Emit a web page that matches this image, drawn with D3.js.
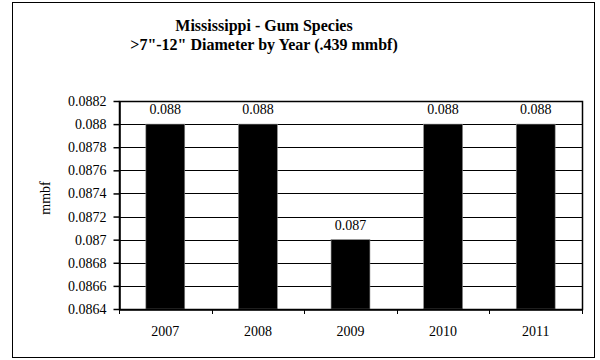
<!DOCTYPE html>
<html><head><meta charset="utf-8">
<script src="https://cdn.jsdelivr.net/npm/d3@7"></script>
<style>body{margin:0;background:#fff}svg{display:block}</style>
</head><body>
<svg id="c" width="600" height="360"></svg>
<script>
const categories = ["2007","2008","2009","2010","2011"];
const values = [0.088,0.088,0.087,0.088,0.088];
const valueLabels = ["0.088","0.088","0.087","0.088","0.088"];
const yTicks = [0.0864,0.0866,0.0868,0.087,0.0872,0.0874,0.0876,0.0878,0.088,0.0882];
const yTickLabels = ["0.0864","0.0866","0.0868","0.087","0.0872","0.0874","0.0876","0.0878","0.088","0.0882"];
const titleLines = ["Mississippi - Gum Species",">7\"-12\" Diameter by Year (.439 mmbf)"];
const yTitle = "mmbf";

const svg = d3.select("#c");
const font = "'Liberation Serif','Times New Roman',serif";
const L=119,R=582,T=101,B=309;
svg.append("rect").attr("x",12.5).attr("y",2.5).attr("width",582).attr("height",355)
  .attr("fill","#fff").attr("stroke","#000").attr("stroke-width",1);

const x = d3.scaleBand().domain(categories).range([L,R]).paddingInner(0.58).paddingOuter(0.29);
const y = d3.scaleLinear().domain([0.0864,0.0882]).range([B,T]);

// gridlines
svg.append("g").selectAll("line").data(yTicks).join("line")
  .attr("x1",L).attr("x2",R).attr("y1",d=>Math.round(y(d))+0.5).attr("y2",d=>Math.round(y(d))+0.5)
  .attr("stroke","#000").attr("stroke-width",1);

// bars
svg.append("g").selectAll("rect").data(values).join("rect")
  .attr("x",(d,i)=>x(categories[i])).attr("width",x.bandwidth())
  .attr("y",d=>y(d)).attr("height",d=>B-y(d))
  .attr("fill","#000").attr("stroke","#888").attr("stroke-width",0.6);

// value labels
svg.append("g").selectAll("text").data(values).join("text")
  .attr("x",(d,i)=>x(categories[i])+x.bandwidth()/2).attr("y",d=>y(d)-10)
  .attr("text-anchor","middle").attr("font-family",font).attr("font-size",14)
  .text((d,i)=>valueLabels[i]);

// y axis
const yAxis = d3.axisLeft(y).tickValues(yTicks).tickFormat((d,i)=>yTickLabels[i]).tickSize(6).tickPadding(7).tickSizeOuter(0);
const gy = svg.append("g").attr("transform",`translate(${L+0.5},0)`).call(yAxis);
gy.selectAll("text").attr("font-family",font).attr("font-size",14).attr("fill","#000");
gy.selectAll("line,path").attr("stroke","#000").attr("stroke-width",1.5);

// x axis
const xAxis = d3.axisBottom(x).tickSize(0).tickSizeOuter(0);
const gx = svg.append("g").attr("transform",`translate(0,${B+0.5})`).call(xAxis);
gx.select("path").attr("stroke","#000").attr("stroke-width",1.5);
gx.selectAll("text").attr("font-family",font).attr("font-size",14).attr("fill","#000")
  .attr("dy",null).attr("y",26);
// category boundary ticks
const bounds = categories.map(c=>x(c)-x.step()*x.paddingInner()/2).concat([R]);
svg.append("g").selectAll("line").data(bounds).join("line")
  .attr("x1",d=>Math.round(d)+0.5).attr("x2",d=>Math.round(d)+0.5).attr("y1",B).attr("y2",B+5)
  .attr("stroke","#000").attr("stroke-width",1);

// plot border right/top
svg.append("rect").attr("x",L+0.5).attr("y",T+0.5).attr("width",R-L).attr("height",B-T)
  .attr("fill","none").attr("stroke","#000").attr("stroke-width",1.5);

// titles
svg.append("g").selectAll("text").data(titleLines).join("text")
  .attr("x",264).attr("y",(d,i)=>31+i*19).attr("text-anchor","middle")
  .attr("font-family",font).attr("font-size",16).attr("font-weight","bold").text(d=>d);

svg.append("text").attr("transform","translate(50,198) rotate(-90)").attr("text-anchor","middle")
  .attr("font-family",font).attr("font-size",14).text(yTitle);
</script>
</body></html>
